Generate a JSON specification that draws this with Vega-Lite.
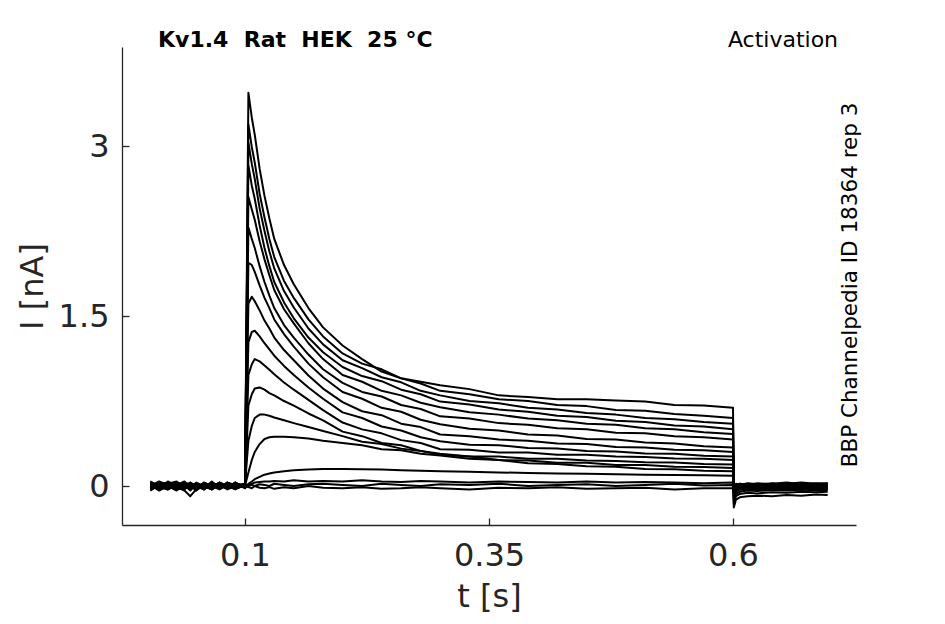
{
  "$schema": "https://vega.github.io/schema/vega-lite/v6.json",
  "width": 734,
  "height": 478,
  "autosize": "none",
  "padding": {"left": 122, "top": 47, "right": 89, "bottom": 99},
  "background": "white",
  "config": {
    "view": {"stroke": null},
    "font": "DejaVu Sans",
    "axis": {
      "grid": false,
      "domainColor": "#262626",
      "domainWidth": 1.3,
      "tickColor": "#262626",
      "tickWidth": 1.3,
      "tickSize": -7,
      "labelFont": "DejaVu Sans",
      "labelFontSize": 32,
      "labelColor": "#262626",
      "titleFont": "DejaVu Sans",
      "titleFontSize": 32,
      "titleFontWeight": "normal",
      "titleColor": "#262626"
    }
  },
  "encoding": {
    "x": {
      "field": "t",
      "type": "quantitative",
      "scale": {"domain": [-0.026, 0.726], "nice": false, "zero": false},
      "axis": {"values": [0.1, 0.35, 0.6], "labelExpr": "'' + datum.value", "title": "t [s]", "labelPadding": 22, "titlePadding": 10}
    },
    "y": {
      "field": "I",
      "type": "quantitative",
      "scale": {"domain": [-0.344, 3.874], "nice": false, "zero": false},
      "axis": {"values": [0, 1.5, 3], "labelExpr": "'' + datum.value", "title": "I [nA]", "labelPadding": 20, "titlePadding": 9}
    }
  },
  "layer": [
    {
      "data": {
        "values": [
          {"t": 0.003, "a": 0.02, "b": -0.01, "c": 0.03, "d": 0.0, "e": -0.03, "f": 0.01, "g": 0.04, "h": -0.02, "i": 0.02, "j": -0.04, "k": 0.0, "l": 0.03, "m": -0.01, "n": 0.02, "o": -0.03, "p": 0.01, "q": -0.02},
          {"t": 0.012, "a": -0.02, "b": 0.03, "c": -0.01, "d": 0.04, "e": 0.01, "f": -0.03, "g": 0.0, "h": 0.02, "i": -0.03, "j": 0.01, "k": 0.03, "l": -0.02, "m": 0.02, "n": -0.01, "o": 0.0, "p": -0.04, "q": 0.03},
          {"t": 0.021, "a": 0.03, "b": 0.0, "c": -0.03, "d": 0.01, "e": 0.03, "f": 0.02, "g": -0.03, "h": 0.0, "i": 0.04, "j": -0.01, "k": -0.03, "l": 0.01, "m": 0.03, "n": -0.02, "o": 0.02, "p": 0.0, "q": -0.01},
          {"t": 0.03, "a": -0.01, "b": -0.03, "c": 0.02, "d": -0.02, "e": 0.0, "f": 0.04, "g": 0.01, "h": -0.04, "i": 0.0, "j": 0.03, "k": 0.01, "l": -0.03, "m": -0.02, "n": 0.03, "o": -0.01, "p": 0.02, "q": 0.0},
          {"t": 0.038, "a": -0.04, "b": 0.02, "c": 0.0, "d": 0.03, "e": -0.02, "f": -0.01, "g": 0.02, "h": 0.01, "i": -0.02, "j": 0.0, "k": 0.04, "l": 0.02, "m": -0.03, "n": 0.0, "o": 0.03, "p": -0.02, "q": 0.01},
          {"t": 0.044, "a": -0.09, "b": -0.01, "c": 0.02, "d": -0.03, "e": 0.02, "f": 0.0, "g": -0.02, "h": 0.03, "i": 0.01, "j": -0.03, "k": -0.01, "l": 0.0, "m": 0.02, "n": -0.03, "o": 0.01, "p": 0.03, "q": -0.04},
          {"t": 0.05, "a": -0.03, "b": 0.01, "c": -0.02, "d": 0.02, "e": -0.04, "f": 0.02, "g": 0.03, "h": -0.01, "i": -0.03, "j": 0.02, "k": 0.0, "l": -0.04, "m": 0.01, "n": 0.02, "o": -0.02, "p": 0.0, "q": 0.02},
          {"t": 0.058, "a": 0.01, "b": -0.02, "c": 0.03, "d": -0.01, "e": 0.01, "f": -0.03, "g": 0.0, "h": 0.02, "i": 0.03, "j": -0.02, "k": -0.03, "l": 0.02, "m": -0.01, "n": 0.0, "o": 0.02, "p": -0.03, "q": 0.0},
          {"t": 0.066, "a": -0.02, "b": 0.03, "c": 0.0, "d": 0.01, "e": -0.01, "f": 0.03, "g": -0.03, "h": -0.02, "i": 0.0, "j": 0.04, "k": 0.02, "l": -0.01, "m": 0.0, "n": -0.03, "o": -0.01, "p": 0.02, "q": -0.03},
          {"t": 0.074, "a": 0.0, "b": -0.01, "c": -0.03, "d": -0.02, "e": 0.03, "f": 0.0, "g": 0.02, "h": 0.01, "i": -0.01, "j": -0.02, "k": 0.01, "l": 0.03, "m": -0.02, "n": 0.01, "o": 0.03, "p": -0.01, "q": 0.02},
          {"t": 0.082, "a": 0.02, "b": 0.0, "c": 0.01, "d": 0.03, "e": -0.02, "f": -0.02, "g": -0.01, "h": -0.03, "i": 0.02, "j": 0.01, "k": -0.02, "l": 0.0, "m": 0.03, "n": -0.02, "o": 0.0, "p": 0.03, "q": -0.01},
          {"t": 0.09, "a": -0.01, "b": 0.02, "c": -0.02, "d": 0.0, "e": 0.02, "f": 0.01, "g": 0.03, "h": 0.0, "i": -0.02, "j": -0.01, "k": 0.03, "l": -0.02, "m": 0.01, "n": 0.03, "o": -0.03, "p": 0.0, "q": 0.01},
          {"t": 0.1, "a": 0.0, "b": -0.01, "c": 0.01, "d": -0.01, "e": 0.0, "f": 0.02, "g": -0.01, "h": 0.01, "i": 0.0, "j": 0.0, "k": -0.01, "l": 0.01, "m": 0.0, "n": -0.02, "o": 0.01, "p": -0.01, "q": 0.0},
          {"t": 0.1035, "a": 3.47, "b": 3.19, "c": 3.03, "d": 2.83, "e": 2.55, "f": 2.28, "g": 1.97, "h": 1.61, "i": 1.27, "j": 0.98, "k": 0.71, "l": 0.40, "m": 0.12, "n": 0.02, "o": 0.01, "p": 0.0, "q": -0.01},
          {"t": 0.107, "a": 3.25, "b": 2.99, "c": 2.84, "d": 2.65, "e": 2.44, "f": 2.18, "g": 1.95, "h": 1.67, "i": 1.36, "j": 1.075, "k": 0.81, "l": 0.53, "m": 0.23, "n": 0.04, "o": 0.02, "p": 0.01, "q": -0.02},
          {"t": 0.11, "a": 3.10, "b": 2.855, "c": 2.71, "d": 2.535, "e": 2.35, "f": 2.10, "g": 1.89, "h": 1.63, "i": 1.37, "j": 1.12, "k": 0.86, "l": 0.60, "m": 0.30, "n": 0.06, "o": 0.03, "p": 0.0, "q": 0.0},
          {"t": 0.115, "a": 2.80, "b": 2.58, "c": 2.45, "d": 2.30, "e": 2.16, "f": 1.94, "g": 1.77, "h": 1.55, "i": 1.32, "j": 1.10, "k": 0.87, "l": 0.63, "m": 0.37, "n": 0.08, "o": 0.035, "p": 0.015, "q": -0.015},
          {"t": 0.12, "a": 2.56, "b": 2.37, "c": 2.25, "d": 2.10, "e": 2.00, "f": 1.80, "g": 1.66, "h": 1.46, "i": 1.26, "j": 1.064, "k": 0.85, "l": 0.63, "m": 0.415, "n": 0.10, "o": 0.04, "p": 0.01, "q": -0.02},
          {"t": 0.125, "a": 2.36, "b": 2.18, "c": 2.07, "d": 1.94, "e": 1.86, "f": 1.68, "g": 1.57, "h": 1.39, "i": 1.205, "j": 1.025, "k": 0.82, "l": 0.62, "m": 0.43, "n": 0.11, "o": 0.04, "p": 0.0, "q": -0.01},
          {"t": 0.13, "a": 2.18, "b": 2.02, "c": 1.92, "d": 1.80, "e": 1.73, "f": 1.57, "g": 1.47, "h": 1.31, "i": 1.15, "j": 0.986, "k": 0.80, "l": 0.605, "m": 0.435, "n": 0.12, "o": 0.045, "p": 0.02, "q": -0.025},
          {"t": 0.14, "a": 1.95, "b": 1.81, "c": 1.72, "d": 1.62, "e": 1.56, "f": 1.42, "g": 1.34, "h": 1.20, "i": 1.06, "j": 0.913, "k": 0.75, "l": 0.58, "m": 0.435, "n": 0.13, "o": 0.04, "p": 0.01, "q": -0.01},
          {"t": 0.15, "a": 1.78, "b": 1.66, "c": 1.575, "d": 1.48, "e": 1.435, "f": 1.31, "g": 1.23, "h": 1.11, "i": 0.98, "j": 0.85, "k": 0.71, "l": 0.555, "m": 0.43, "n": 0.14, "o": 0.05, "p": 0.0, "q": -0.02},
          {"t": 0.165, "a": 1.57, "b": 1.47, "c": 1.39, "d": 1.31, "e": 1.26, "f": 1.16, "g": 1.08, "h": 0.975, "i": 0.87, "j": 0.76, "k": 0.64, "l": 0.52, "m": 0.42, "n": 0.145, "o": 0.04, "p": 0.015, "q": 0.0},
          {"t": 0.18, "a": 1.40, "b": 1.32, "c": 1.25, "d": 1.18, "e": 1.12, "f": 1.03, "g": 0.96, "h": 0.86, "i": 0.77, "j": 0.67, "k": 0.58, "l": 0.485, "m": 0.40, "n": 0.15, "o": 0.045, "p": 0.02, "q": -0.015},
          {"t": 0.2, "a": 1.24, "b": 1.17, "c": 1.11, "d": 1.05, "e": 0.98, "f": 0.91, "g": 0.83, "h": 0.74, "i": 0.65, "j": 0.56, "k": 0.48, "l": 0.44, "m": 0.38, "n": 0.15, "o": 0.04, "p": 0.01, "q": -0.02},
          {"t": 0.22, "a": 1.12, "b": 1.08, "c": 1.04, "d": 0.97, "e": 0.92, "f": 0.83, "g": 0.77, "h": 0.66, "i": 0.60, "j": 0.50, "k": 0.44, "l": 0.39, "m": 0.36, "n": 0.148, "o": 0.05, "p": 0.0, "q": -0.01},
          {"t": 0.24, "a": 1.01, "b": 1.03, "c": 0.96, "d": 0.925, "e": 0.84, "f": 0.79, "g": 0.69, "h": 0.625, "i": 0.525, "j": 0.465, "k": 0.38, "l": 0.37, "m": 0.325, "n": 0.145, "o": 0.04, "p": 0.02, "q": -0.025},
          {"t": 0.26, "a": 0.95, "b": 0.95, "c": 0.915, "d": 0.85, "e": 0.80, "f": 0.715, "g": 0.655, "h": 0.55, "i": 0.49, "j": 0.405, "k": 0.36, "l": 0.33, "m": 0.315, "n": 0.14, "o": 0.035, "p": 0.01, "q": -0.02},
          {"t": 0.28, "a": 0.92, "b": 0.905, "c": 0.84, "d": 0.81, "e": 0.735, "f": 0.68, "g": 0.585, "h": 0.52, "i": 0.43, "j": 0.38, "k": 0.31, "l": 0.31, "m": 0.285, "n": 0.135, "o": 0.045, "p": 0.0, "q": -0.01},
          {"t": 0.3, "a": 0.89, "b": 0.84, "c": 0.80, "d": 0.745, "e": 0.695, "f": 0.615, "g": 0.545, "h": 0.455, "i": 0.395, "j": 0.325, "k": 0.285, "l": 0.275, "m": 0.27, "n": 0.13, "o": 0.04, "p": 0.015, "q": -0.02},
          {"t": 0.33, "a": 0.855, "b": 0.81, "c": 0.75, "d": 0.72, "e": 0.65, "f": 0.595, "g": 0.505, "h": 0.44, "i": 0.365, "j": 0.32, "k": 0.26, "l": 0.26, "m": 0.24, "n": 0.125, "o": 0.03, "p": 0.01, "q": -0.03},
          {"t": 0.36, "a": 0.80, "b": 0.765, "c": 0.73, "d": 0.675, "e": 0.63, "f": 0.555, "g": 0.49, "h": 0.41, "i": 0.36, "j": 0.295, "k": 0.26, "l": 0.23, "m": 0.23, "n": 0.12, "o": 0.04, "p": 0.02, "q": -0.015},
          {"t": 0.39, "a": 0.785, "b": 0.75, "c": 0.69, "d": 0.655, "e": 0.595, "f": 0.54, "g": 0.455, "h": 0.40, "i": 0.335, "j": 0.295, "k": 0.24, "l": 0.225, "m": 0.20, "n": 0.115, "o": 0.035, "p": 0.0, "q": -0.02},
          {"t": 0.42, "a": 0.765, "b": 0.715, "c": 0.675, "d": 0.62, "e": 0.58, "f": 0.51, "g": 0.445, "h": 0.375, "i": 0.33, "j": 0.275, "k": 0.24, "l": 0.205, "m": 0.195, "n": 0.11, "o": 0.03, "p": 0.01, "q": -0.01},
          {"t": 0.45, "a": 0.765, "b": 0.705, "c": 0.645, "d": 0.61, "e": 0.55, "f": 0.50, "g": 0.415, "h": 0.37, "i": 0.31, "j": 0.275, "k": 0.225, "l": 0.205, "m": 0.175, "n": 0.108, "o": 0.04, "p": 0.015, "q": -0.025},
          {"t": 0.48, "a": 0.755, "b": 0.67, "c": 0.63, "d": 0.575, "e": 0.54, "f": 0.47, "g": 0.41, "h": 0.345, "i": 0.305, "j": 0.26, "k": 0.22, "l": 0.185, "m": 0.17, "n": 0.104, "o": 0.03, "p": 0.0, "q": -0.02},
          {"t": 0.51, "a": 0.745, "b": 0.665, "c": 0.60, "d": 0.565, "e": 0.51, "f": 0.465, "g": 0.385, "h": 0.34, "i": 0.287, "j": 0.257, "k": 0.21, "l": 0.185, "m": 0.15, "n": 0.10, "o": 0.035, "p": 0.01, "q": -0.015},
          {"t": 0.54, "a": 0.715, "b": 0.635, "c": 0.59, "d": 0.535, "e": 0.50, "f": 0.44, "g": 0.375, "h": 0.32, "i": 0.285, "j": 0.243, "k": 0.207, "l": 0.17, "m": 0.148, "n": 0.097, "o": 0.03, "p": 0.02, "q": -0.03},
          {"t": 0.57, "a": 0.71, "b": 0.62, "c": 0.565, "d": 0.525, "e": 0.475, "f": 0.43, "g": 0.35, "h": 0.316, "i": 0.268, "j": 0.24, "k": 0.195, "l": 0.167, "m": 0.135, "n": 0.094, "o": 0.025, "p": 0.005, "q": -0.02},
          {"t": 0.6, "a": 0.69, "b": 0.60, "c": 0.55, "d": 0.50, "e": 0.46, "f": 0.41, "g": 0.34, "h": 0.30, "i": 0.26, "j": 0.23, "k": 0.19, "l": 0.16, "m": 0.13, "n": 0.09, "o": 0.03, "p": 0.01, "q": -0.02},
          {"t": 0.6008, "a": -0.19, "b": -0.16, "c": -0.14, "d": -0.12, "e": -0.10, "f": -0.09, "g": -0.08, "h": -0.07, "i": -0.06, "j": -0.05, "k": -0.04, "l": -0.03, "m": -0.03, "n": -0.02, "o": -0.01, "p": -0.01, "q": -0.01},
          {"t": 0.603, "a": -0.12, "b": -0.09, "c": -0.07, "d": -0.05, "e": -0.04, "f": -0.03, "g": -0.02, "h": -0.01, "i": -0.01, "j": 0.0, "k": 0.0, "l": 0.01, "m": 0.01, "n": 0.015, "o": 0.02, "p": 0.0, "q": -0.02},
          {"t": 0.607, "a": -0.10, "b": -0.07, "c": -0.05, "d": -0.03, "e": -0.02, "f": -0.01, "g": 0.0, "h": -0.02, "i": 0.0, "j": -0.01, "k": 0.01, "l": 0.0, "m": 0.02, "n": 0.005, "o": 0.01, "p": 0.02, "q": 0.0},
          {"t": 0.615, "a": -0.09, "b": -0.06, "c": -0.04, "d": -0.035, "e": -0.03, "f": -0.02, "g": -0.015, "h": 0.0, "i": -0.01, "j": 0.01, "k": -0.005, "l": 0.015, "m": 0.005, "n": 0.02, "o": 0.025, "p": 0.01, "q": -0.01},
          {"t": 0.625, "a": -0.085, "b": -0.065, "c": -0.045, "d": -0.02, "e": -0.01, "f": -0.03, "g": -0.005, "h": -0.015, "i": 0.005, "j": -0.005, "k": 0.01, "l": 0.005, "m": 0.015, "n": 0.01, "o": 0.015, "p": 0.025, "q": 0.0},
          {"t": 0.64, "a": -0.09, "b": -0.055, "c": -0.035, "d": -0.03, "e": -0.025, "f": -0.01, "g": -0.02, "h": -0.005, "i": -0.01, "j": 0.005, "k": 0.0, "l": 0.02, "m": 0.01, "n": 0.025, "o": 0.02, "p": 0.015, "q": -0.015},
          {"t": 0.655, "a": -0.08, "b": -0.06, "c": -0.04, "d": -0.025, "e": -0.015, "f": -0.02, "g": 0.0, "h": -0.02, "i": 0.0, "j": -0.01, "k": 0.015, "l": 0.0, "m": 0.02, "n": 0.01, "o": 0.03, "p": 0.02, "q": -0.005},
          {"t": 0.67, "a": -0.085, "b": -0.05, "c": -0.03, "d": -0.035, "e": -0.02, "f": -0.01, "g": -0.015, "h": 0.0, "i": -0.015, "j": 0.0, "k": 0.0, "l": 0.01, "m": 0.005, "n": 0.02, "o": 0.015, "p": 0.03, "q": -0.01},
          {"t": 0.685, "a": -0.075, "b": -0.055, "c": -0.04, "d": -0.02, "e": -0.03, "f": -0.025, "g": -0.01, "h": -0.01, "i": 0.0, "j": 0.01, "k": 0.005, "l": 0.015, "m": 0.015, "n": 0.01, "o": 0.025, "p": 0.02, "q": 0.0},
          {"t": 0.697, "a": -0.08, "b": -0.05, "c": -0.035, "d": -0.03, "e": -0.015, "f": -0.02, "g": -0.02, "h": -0.005, "i": -0.01, "j": 0.0, "k": 0.01, "l": 0.005, "m": 0.02, "n": 0.02, "o": 0.02, "p": 0.025, "q": -0.01}
        ]
      },
      "transform": [
        {"fold": ["a", "b", "c", "d", "e", "f", "g", "h", "i", "j", "k", "l", "m", "n", "o", "p", "q"], "as": ["trace", "I"]}
      ],
      "mark": {"type": "line", "color": "black", "strokeWidth": 2, "strokeJoin": "round"},
      "encoding": {
        "detail": {"field": "trace", "type": "nominal"}
      }
    },
    {
      "data": {"values": [{"t": 0.0109, "I": 3.874, "label": "Kv1.4\u00a0\u00a0Rat\u00a0\u00a0HEK\u00a0\u00a025 °C"}]},
      "mark": {"type": "text", "align": "left", "baseline": "alphabetic", "font": "DejaVu Sans", "fontSize": 22, "fontWeight": "bold", "color": "black"},
      "encoding": {"text": {"field": "label"}}
    },
    {
      "data": {"values": [{"t": 0.7076, "I": 3.874, "label": "Activation"}]},
      "mark": {"type": "text", "align": "right", "baseline": "alphabetic", "font": "DejaVu Sans", "fontSize": 22, "color": "black"},
      "encoding": {"text": {"field": "label"}}
    },
    {
      "data": {"values": [{"t": 0.7206, "I": 1.774, "label": "BBP Channelpedia ID 18364 rep 3"}]},
      "mark": {"type": "text", "align": "center", "baseline": "middle", "angle": 270, "font": "DejaVu Sans", "fontSize": 21.5, "color": "black"},
      "encoding": {"text": {"field": "label"}}
    }
  ]
}
